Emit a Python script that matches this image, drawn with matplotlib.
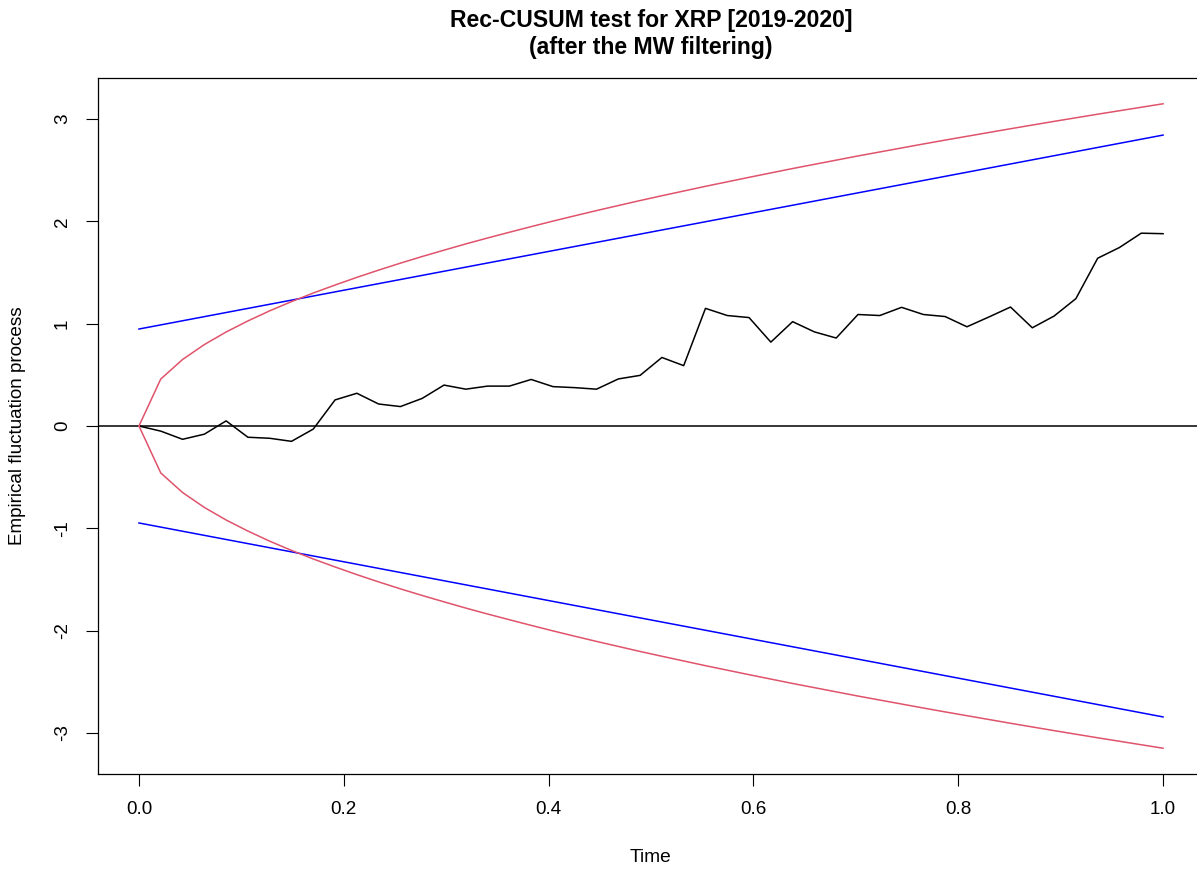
import matplotlib
matplotlib.use("Agg")
import matplotlib.pyplot as plt
import numpy as np

plt.rcParams['font.family'] = ['Liberation Sans', 'DejaVu Sans']

# Empirical fluctuation process (Rec-CUSUM), 48 points on [0, 1]
n_points = 48
process = [0.00, -0.05, -0.13, -0.08, 0.05, -0.11, -0.12, -0.15, -0.03, 0.255,
           0.32, 0.215, 0.19, 0.27, 0.40, 0.36, 0.39, 0.39, 0.455, 0.385,
           0.375, 0.36, 0.46, 0.495, 0.67, 0.59, 1.15, 1.08, 1.06, 0.82,
           1.02, 0.92, 0.86, 1.09, 1.08, 1.16, 1.09, 1.07, 0.97, 1.065,
           1.163, 0.96, 1.075, 1.245, 1.64, 1.745, 1.885, 1.88]

# Linear boundary (blue): endpoints
blue_t = [0.0, 1.0]
blue_upper = [0.948, 2.844]

# Alternative (sqrt) boundary (red), at the sample points
red_upper = [0.000, 0.459, 0.650, 0.796, 0.919, 1.027, 1.126, 1.216, 1.300, 1.378,
             1.453, 1.524, 1.592, 1.657, 1.719, 1.780, 1.838, 1.894, 1.949, 2.003,
             2.055, 2.106, 2.155, 2.204, 2.251, 2.297, 2.343, 2.387, 2.431, 2.474,
             2.517, 2.558, 2.599, 2.640, 2.679, 2.718, 2.757, 2.795, 2.832, 2.869,
             2.906, 2.942, 2.978, 3.013, 3.048, 3.082, 3.116, 3.150]

xticks = [0.0, 0.2, 0.4, 0.6, 0.8, 1.0]
xticklabels = ["0.0", "0.2", "0.4", "0.6", "0.8", "1.0"]
yticks = [-3, -2, -1, 0, 1, 2, 3]

t = np.linspace(0, 1, n_points)

W, H = 1197, 873
fig = plt.figure(figsize=(W / 100, H / 100), dpi=100)
left, right, top, bottom = 98, 1204, 78, 774
ax = fig.add_axes([left / W, 1 - bottom / H, (right - left) / W, (bottom - top) / H])

RED = '#DF536B'
BLUE = '#0000FF'

ax.plot(t, process, color='black', lw=1.1)
ax.axhline(0, color='black', lw=1.1)
ax.plot(blue_t, blue_upper, color=BLUE, lw=1.1)
ax.plot(blue_t, [-v for v in blue_upper], color=BLUE, lw=1.1)
ax.plot(t, red_upper, color=RED, lw=1.1)
ax.plot(t, [-v for v in red_upper], color=RED, lw=1.1)

ax.set_xlim(-0.04, 1.04)
ax.set_ylim(-3.402, 3.402)
ax.set_xticks(xticks)
ax.set_xticklabels(xticklabels)
ax.set_yticks(yticks)
ax.set_yticklabels([str(v) for v in yticks], rotation=90, va='center')
ax.tick_params(axis='both', direction='out', length=8.5, width=0.8, labelsize=13.6)
ax.tick_params(axis='x', pad=11)
ax.tick_params(axis='y', pad=11)
for s in ax.spines.values():
    s.set_linewidth(0.9)

ax.set_xlabel("Time", fontsize=13.8, labelpad=22)
ax.set_ylabel("Empirical fluctuation process", fontsize=13.6, labelpad=20)
ax.set_title("Rec-CUSUM test for XRP [2019-2020]\n(after the MW filtering)",
             fontsize=16.6, fontweight='bold', pad=17, linespacing=1.25)

fig.savefig("out.png", dpi=100)
